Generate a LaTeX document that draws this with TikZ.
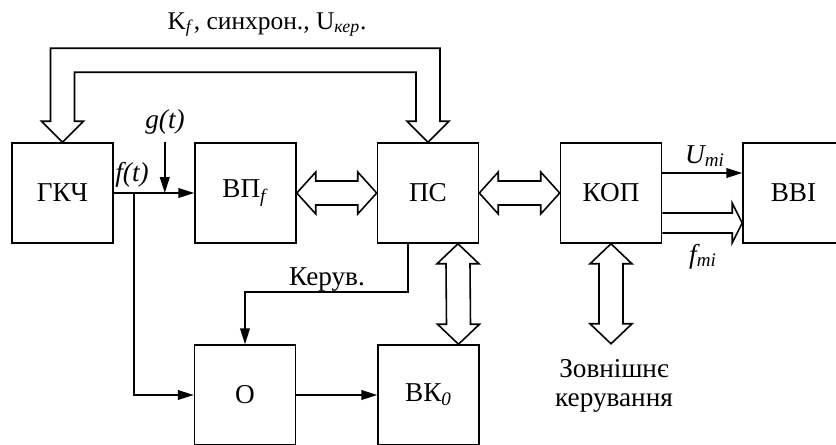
\documentclass[tikz,border=0pt]{standalone}
\usepackage{fontspec}
\setmainfont{Liberation Serif}
\usepackage{tikz}
\usetikzlibrary{arrows.meta, positioning, calc}

\begin{document}
\begin{tikzpicture}[
    x=0.02cm, y=-0.02cm,
    blk/.style={rectangle, draw, line width=0.9pt, minimum width=2.02cm, minimum height=2cm, inner sep=0pt, font=\fontsize{15.5}{17}\selectfont},
    lbl/.style={font=\fontsize{15.5}{16.5}\selectfont, inner sep=0pt},
    arr/.style={-{Triangle[length=9pt, width=5.5pt]}, line width=0.9pt},
    bus/.style={draw, line width=0.9pt, line join=miter},
]
\useasboundingbox (0,0) rectangle (836,444);
\clip (0,0) rectangle (836,444);

% Blocks
\node[blk] (gkch) at (62.5,193) {ГКЧ};
\node[blk] (vp) at (245.5,193) {ВП\textsubscript{\textit{f}}};
\node[blk] (ps) at (428,193) {ПС};
\node[blk] (kop) at (611,193) {КОП};
\node[blk] (vvi) at (793.5,193) {ВВІ};
\node[blk] (o) at (245,395) {О};
\node[blk] (vk) at (428.5,395) {ВК\textsubscript{\textit{0}}};

% Top bus
\draw[bus] (gkch.north) -- ++(21,-21) -- ++(-9,0) |- ($(ps.north)+(-12,-70)$) -- ++(0,49) -- ++(-9,0)
    -- (ps.north) -- ++(21,-21) -- ++(-9,0) |- ($(gkch.north)+(-12,-94)$) -- ++(0,73) -- ++(-9,0) -- cycle;
\node[lbl, anchor=base, font=\fontsize{14.5}{16.5}\selectfont] (ctl) at (267,29) {K\textsubscript{\textit{f}}, синхрон., U\textsubscript{\textit{кер}}.};

% Signal path
\coordinate (fork) at ($(gkch.east)+(20,0)$);
\coordinate (mix) at ($(gkch.east)+(51,0)$);
\draw[arr] (gkch.east) -- (vp.west);
\node[lbl, anchor=base] (gt) at (165,128) {\textit{g(t)}};
\draw[arr] (mix |- gkch.north) -- (mix);
\node[lbl, anchor=base] (ft) at (132,181) {\textit{f(t)}};
\draw[arr] (fork) |- (o.west);
\draw[arr] (o.east) -- (vk.west);

% Control
\draw[arr] ($(ps.south)+(-20,0)$) |- ($(o.north)+(0,-52)$) -- (o.north);
\node[lbl, anchor=base] (kr) at (327,285) {Керув.};

% Data buses
\draw[bus] (vp.east) -- ++(19,-21) -- ++(0,9) -- ($(ps.west)+(-19,-12)$) -- ++(0,-9) -- (ps.west)
    -- ++(-19,21) -- ++(0,-9) -- ($(vp.east)+(19,12)$) -- ++(0,9) -- cycle;
\draw[bus] (ps.east) -- ++(19,-21) -- ++(0,9) -- ($(kop.west)+(-19,-12)$) -- ++(0,-9) -- (kop.west)
    -- ++(-19,21) -- ++(0,-9) -- ($(ps.east)+(19,12)$) -- ++(0,9) -- cycle;
\draw[bus] ($(ps.south)+(30,0)$) -- ++(21,20) -- ++(-9,0) -- ($(vk.north)+(42,-20)$) -- ++(9,0)
    -- ($(vk.north)+(30,0)$) -- ++(-21,-20) -- ++(9,0) -- ($(ps.south)+(18,20)$) -- ++(-9,0) -- cycle;
\draw[bus] (kop.south) -- ++(21,20) -- ++(-9,0) -- ++(0,60) -- ++(9,0) -- ++(-21,20)
    -- ++(-21,-20) -- ++(9,0) -- ++(0,-60) -- ++(-9,0) -- cycle;
\node[lbl, anchor=north, align=center] (ext) at (614,359) {Зовнішнє\\керування};

% Outputs
\draw[arr] ($(kop.east)+(0,-20)$) -- ($(vvi.west)+(0,-20)$);
\node[lbl, anchor=base] (um) at (705,163) {\textit{U\textsubscript{mi}}};
\draw[bus] ($(kop.east)+(0,20)$) -- ($(vvi.west)+(-10,20)$) -- ++(0,-10) -- ($(vvi.west)+(0,30)$)
    -- ++(-10,20) -- ++(0,-10) -- ($(kop.east)+(0,40)$);
\node[lbl, anchor=base] (fm) at (703,263) {\textit{f\textsubscript{mi}}};

\end{tikzpicture}
\end{document}
